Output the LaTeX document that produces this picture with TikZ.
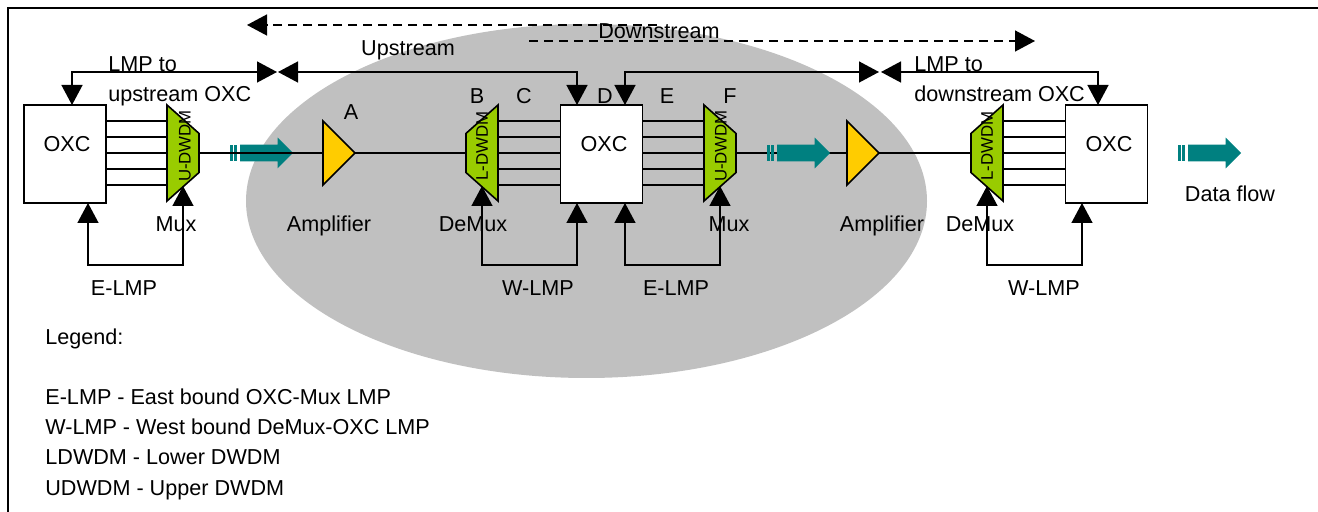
\documentclass[tikz,border=0pt]{standalone}
\usepackage{fontspec}
\setmainfont{Liberation Sans}
\usetikzlibrary{arrows.meta,shapes.geometric,shapes.arrows}
\definecolor{zonegray}{HTML}{C0C0C0}
\definecolor{dwdmgreen}{HTML}{99CC00}
\definecolor{ampyellow}{HTML}{FFCC00}
\definecolor{flowteal}{HTML}{008080}
\tikzset{
	wire/.style={line width=.7pt},
	lmp/.style={line width=.7pt,{Triangle[length=10pt,width=10.5pt]}-{Triangle[length=10pt,width=10.5pt]}},
	flowdash/.style={line width=.7pt,dash pattern=on 4.5pt off 3pt,-{Triangle[length=10pt,width=10.5pt]}},
	oxcbox/.style={draw,fill=white,line width=.8pt,minimum width=41pt,minimum height=49pt,inner sep=0pt,outer sep=0pt},
	dwdm/.style={draw,fill=dwdmgreen,line width=.8pt,trapezium,trapezium stretches=true,trapezium left angle=54,trapezium right angle=54,minimum width=48pt,minimum height=16pt,inner sep=1pt,outer sep=0pt},
	amp/.style={draw,fill=ampyellow,line width=.8pt,isosceles triangle,isosceles triangle stretches=true,minimum width=32pt,minimum height=16pt,inner sep=1pt,outer sep=0pt,anchor=lower side},
	flowbody/.style={single arrow,fill=flowteal,minimum height=26.5pt,minimum width=15pt,text height=6pt,text depth=0pt,single arrow head extend=3.5pt,single arrow head indent=0pt,inner sep=1pt,outer sep=0pt,anchor=tip},
	flowbar/.style={fill=flowteal,minimum width=1.5pt,minimum height=8pt,inner sep=0pt,outer sep=0pt},
	lbl/.style={font=\fontsize{10.8}{12}\selectfont,anchor=base,inner sep=0pt},
	lblw/.style={lbl,anchor=base west},
	dwdmlbl/.style={font=\fontsize{8.4}{10}\selectfont,rotate=90,inner sep=0pt}
}
\begin{document}
\begin{tikzpicture}[x=.5pt,y=-.5pt]
	\useasboundingbox (0,0) rectangle (1318,512);
	\node[ellipse,fill=zonegray,minimum width=340.5pt,minimum height=177pt,inner sep=0pt] (zone) at (586.5,201) {};
	\draw[line width=1pt] (8,512) -- (8,8) -- (1318,8);

	% free ends of the long arrows
	\coordinate (upL) at (247,25);
	\coordinate (upR) at (657,25);
	\coordinate (downL) at (529,41);
	\coordinate (downR) at (1035,41);
	\coordinate (lmpA) at (277,72);
	\coordinate (lmpB) at (278,72);
	\coordinate (lmpC) at (879,72);
	\coordinate (lmpD) at (881,72);

	% boxes
	\node[oxcbox] (oxcA) at (65,154) {};
	\node[oxcbox] (oxcB) at (601.5,154) {};
	\node[oxcbox] (oxcC) at (1106.5,154) {};

	% wires
	\draw[wire] (106,121) -- (167,121);
	\draw[wire] (106,137) -- (167,137);
	\draw[wire] (106,153) -- (167,153);
	\draw[wire] (106,169) -- (167,169);
	\draw[wire] (106,185) -- (167,185);

	\draw[wire] (498,121) -- (561,121);
	\draw[wire] (498,137) -- (561,137);
	\draw[wire] (498,153) -- (561,153);
	\draw[wire] (498,169) -- (561,169);
	\draw[wire] (498,185) -- (561,185);

	\draw[wire] (642,121) -- (704,121);
	\draw[wire] (642,137) -- (704,137);
	\draw[wire] (642,153) -- (704,153);
	\draw[wire] (642,169) -- (704,169);
	\draw[wire] (642,185) -- (704,185);

	\draw[wire] (1003,121) -- (1066,121);
	\draw[wire] (1003,137) -- (1066,137);
	\draw[wire] (1003,153) -- (1066,153);
	\draw[wire] (1003,169) -- (1066,169);
	\draw[wire] (1003,185) -- (1066,185);

	% mux and demux
	\node[dwdm,rotate=-90] (muxA) at (183,153) {};
	\node[dwdm,rotate=90] (demuxB) at (482,153) {};
	\node[dwdm,rotate=-90] (muxF) at (720,153) {};
	\node[dwdm,rotate=90] (demuxG) at (987,153) {};
	\node[dwdmlbl] (muxAtxt) at (185,146) {U-DWDM};
	\node[dwdmlbl] (demuxBtxt) at (482,146) {L-DWDM};
	\node[dwdmlbl] (muxFtxt) at (721,146) {U-DWDM};
	\node[dwdmlbl] (demuxGtxt) at (987,146) {L-DWDM};

	% amplifiers
	\node[amp] (ampA) at (323,153) {};
	\node[amp] (ampB) at (847,153) {};

	% second flow arrow lies on the trunk, so it follows it
	\draw[wire] (muxF.north) -- (ampB.lower side);
	\node[flowbody] (flowB) at (830,153) {};
	\node[flowbar] (flowBa) at (768.5,153) {};
	\node[flowbar] (flowBb) at (772.5,153) {};

	% first flow arrow lies under the trunk
	\node[flowbody] (flowA) at (293,153) {};
	\node[flowbar] (flowAa) at (231.5,153) {};
	\node[flowbar] (flowAb) at (235.5,153) {};
	\draw[wire] (muxA.north) -- (ampA.lower side);
	\draw[wire] (ampA.apex) -- (demuxB.north);
	\draw[wire] (ampB.apex) -- (demuxG.north);

	\node[flowbody] (flowC) at (1241,153) {};
	\node[flowbar] (flowCa) at (1179.5,153) {};
	\node[flowbar] (flowCb) at (1183.5,153) {};

	% dashed direction arrows
	\draw[flowdash] (upR) -- (upL);
	\draw[flowdash] (downL) -- (downR);

	% LMP to the neighbour OXC
	\draw[lmp] ([xshift=3.5pt]oxcA.north) |- (lmpA);
	\draw[lmp] (lmpB) -| ([xshift=-12.25pt]oxcB.north);
	\draw[lmp] ([xshift=11.75pt]oxcB.north) |- (lmpC);
	\draw[lmp] (lmpD) -| ([xshift=-4.25pt]oxcC.north);

	% LMP between OXC and mux or demux
	\draw[lmp] ([yshift=-16.5pt]muxA.center) -- ++(0,79) -| ([xshift=11.5pt]oxcA.south);
	\draw[lmp] ([yshift=-16.5pt]demuxB.center) -- ++(0,79) -| ([xshift=-12.25pt]oxcB.south);
	\draw[lmp] ([yshift=-16.5pt]muxF.center) -- ++(0,79) -| ([xshift=11.75pt]oxcB.south);
	\draw[lmp] ([yshift=-16.5pt]demuxG.center) -- ++(0,79) -| ([xshift=-12.25pt]oxcC.south);

	% texts
	\node[lbl] (oxcAtxt) at (67,152) {OXC};
	\node[lbl] (oxcBtxt) at (604,152) {OXC};
	\node[lbl] (oxcCtxt) at (1109,152) {OXC};
	\node[lblw] (toUpa) at (108,72) {LMP to};
	\node[lblw] (toUpb) at (108,102) {upstream OXC};
	\node[lblw] (toDowna) at (914,72) {LMP to};
	\node[lblw] (toDownb) at (914,102) {downstream OXC};
	\node[lbl] (upTxt) at (408,56) {Upstream};
	\node[lbl] (downTxt) at (659,39) {Downstream};
	\node[lbl] (ptA) at (351,120) {A};
	\node[lbl] (ptB) at (477,104) {B};
	\node[lbl] (ptC) at (524,104) {C};
	\node[lbl] (ptD) at (605,104) {D};
	\node[lbl] (ptE) at (667,104) {E};
	\node[lbl] (ptF) at (730,104) {F};
	\node[lbl] (muxAname) at (176,232) {Mux};
	\node[lbl] (ampAname) at (329,232) {Amplifier};
	\node[lbl] (demuxBname) at (473,232) {DeMux};
	\node[lbl] (muxFname) at (729,232) {Mux};
	\node[lbl] (ampBname) at (882,232) {Amplifier};
	\node[lbl] (demuxGname) at (980,232) {DeMux};
	\node[lbl] (elmpA) at (124,296) {E-LMP};
	\node[lbl] (wlmpB) at (538,296) {W-LMP};
	\node[lbl] (elmpF) at (676,296) {E-LMP};
	\node[lbl] (wlmpG) at (1044,296) {W-LMP};
	\node[lbl] (flowTxt) at (1230,202) {Data flow};

	% legend
	\node[lblw] (legend) at (45,345) {Legend:};
	\node[lblw] (legE) at (45,405) {E-LMP - East bound OXC-Mux LMP};
	\node[lblw] (legW) at (45,435) {W-LMP - West bound DeMux-OXC LMP};
	\node[lblw] (legL) at (45,465) {LDWDM - Lower DWDM};
	\node[lblw] (legU) at (45,496) {UDWDM - Upper DWDM};
\end{tikzpicture}
\end{document}
